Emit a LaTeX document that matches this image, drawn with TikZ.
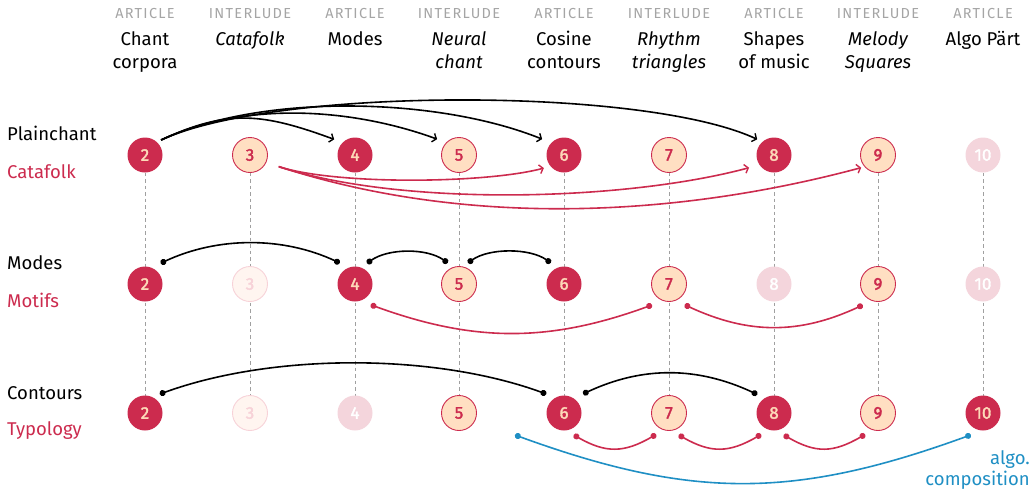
\documentclass[tikz,border=0pt]{standalone}
\usepackage{fontspec}
\setmainfont{Fira Sans}
\usetikzlibrary{arrows.meta,calc,backgrounds}
\definecolor{crim}{HTML}{CC2B4E}
\definecolor{peach}{HTML}{FFDFC2}
\definecolor{peachtxt}{HTML}{FDD9B8}
\definecolor{fade}{HTML}{F4D5DC}
\definecolor{vfadefill}{HTML}{FFF5F0}
\definecolor{vfadeline}{HTML}{F7D2D8}
\definecolor{hdrgray}{HTML}{A5A5A5}
\definecolor{dashgray}{HTML}{A0A0A0}
\definecolor{algoblue}{HTML}{1F8FC4}
\tikzset{
  num/.style={circle, minimum size=35pt, inner sep=0pt, outer sep=0pt, font=\fontsize{17}{17}\selectfont\addfontfeature{FakeBold=2}},
  dk/.style={num, fill=crim, text=peachtxt},
  lt/.style={num, fill=peach, draw=crim, line width=0.9pt, text=crim},
  fd/.style={num, fill=fade, text=white},
  vf/.style={num, fill=vfadefill, draw=vfadeline, line width=0.9pt, text=vfadeline},
  hdr/.style={anchor=base, text=hdrgray, inner sep=0pt, font=\fontsize{14.5}{14.5}\selectfont\addfontfeature{LetterSpace=9}},
  ttl/.style={anchor=base, inner sep=0pt, font=\fontsize{18.5}{23}\selectfont},
  ttli/.style={ttl, font=\fontsize{18.5}{23}\selectfont\itshape},
  lbl/.style={anchor=base west, inner sep=0pt, font=\fontsize{18.5}{23}\selectfont},
  lblr/.style={lbl, text=crim},
  algolbl/.style={anchor=base east, inner sep=0pt, text=algoblue, font=\fontsize{18.5}{23}\selectfont},
  dashline/.style={dashgray, line width=0.9pt, dash pattern=on 3.5pt off 3pt},
  blk/.style={black, line width=1.6pt},
  redc/.style={crim, line width=1.6pt},
  bluec/.style={algoblue, line width=1.6pt},
  arr/.style={-{Straight Barb[length=3.5pt,width=9pt,line width=1.4pt]}},
  dots/.style={{Circle[length=6pt]}-{Circle[length=6pt]}}
}
\begin{document}
\begin{tikzpicture}[x=1pt,y=-1pt]
\useasboundingbox (0,0) rectangle (1033,491);
% header
\node[hdr] (h2) at (145,18.5) {ARTICLE};
\node[hdr] (h3) at (250,18.5) {INTERLUDE};
\node[hdr] (h4) at (355,18.5) {ARTICLE};
\node[hdr] (h5) at (459,18.5) {INTERLUDE};
\node[hdr] (h6) at (564,18.5) {ARTICLE};
\node[hdr] (h7) at (669,18.5) {INTERLUDE};
\node[hdr] (h8) at (774,18.5) {ARTICLE};
\node[hdr] (h9) at (878,18.5) {INTERLUDE};
\node[hdr] (h10) at (983,18.5) {ARTICLE};
\node[ttl] (t2a) at (145,45) {Chant};
\node[ttl] (t2b) at (145,68) {corpora};
\node[ttli] (t3a) at (250,45) {Catafolk};
\node[ttl] (t4a) at (355,45) {Modes};
\node[ttli] (t5a) at (459,45) {Neural};
\node[ttli] (t5b) at (459,68) {chant};
\node[ttl] (t6a) at (564,45) {Cosine};
\node[ttl] (t6b) at (564,68) {contours};
\node[ttli] (t7a) at (669,45) {Rhythm};
\node[ttli] (t7b) at (669,68) {triangles};
\node[ttl] (t8a) at (774,45) {Shapes};
\node[ttl] (t8b) at (774,68) {of music};
\node[ttli] (t9a) at (878,45) {Melody};
\node[ttli] (t9b) at (878,68) {Squares};
\node[ttl] (t10a) at (983,45) {Algo Pärt};
% row labels
\node[lbl] (l1a) at (7,140) {Plainchant};
\node[lblr] (l1b) at (7,178) {Catafolk};
\node[lbl] (l2a) at (7,269) {Modes};
\node[lblr] (l2b) at (7,307) {Motifs};
\node[lbl] (l3a) at (7,399) {Contours};
\node[lblr] (l3b) at (7,435) {Typology};
\node[algolbl] (al1) at (1030,464) {algo.};
\node[algolbl] (al2) at (1030,485) {composition};
% row 1
\node[dk] (r1c2) at (145,155) {2};
\node[lt] (r1c3) at (250,155) {3};
\node[dk] (r1c4) at (355,155) {4};
\node[lt] (r1c5) at (459,155) {5};
\node[dk] (r1c6) at (564,155) {6};
\node[lt] (r1c7) at (669,155) {7};
\node[dk] (r1c8) at (774,155) {8};
\node[lt] (r1c9) at (878,155) {9};
\node[fd] (r1c10) at (983,155) {10};
% row 2
\node[dk] (r2c2) at (145,284) {2};
\node[vf] (r2c3) at (250,284) {3};
\node[dk] (r2c4) at (355,284) {4};
\node[lt] (r2c5) at (459,284) {5};
\node[dk] (r2c6) at (564,284) {6};
\node[lt] (r2c7) at (669,284) {7};
\node[fd] (r2c8) at (774,284) {8};
\node[lt] (r2c9) at (878,284) {9};
\node[fd] (r2c10) at (983,284) {10};
% row 3
\node[dk] (r3c2) at (145,413) {2};
\node[vf] (r3c3) at (250,413) {3};
\node[fd] (r3c4) at (355,413) {4};
\node[lt] (r3c5) at (459,413) {5};
\node[dk] (r3c6) at (564,413) {6};
\node[lt] (r3c7) at (669,413) {7};
\node[dk] (r3c8) at (774,413) {8};
\node[lt] (r3c9) at (878,413) {9};
\node[dk] (r3c10) at (983,413) {10};
% dashed verticals
\begin{scope}[on background layer]
\foreach \i in {2,...,10} \draw[dashline] (r1c\i) -- (r3c\i);
\end{scope}
% row 1 connectors
\draw[blk,arr] ($(r1c2)+(43:22pt)$) to[out=25,in=160,distance=75pt] ($(r1c4)+(143:26pt)$);
\draw[blk,arr] ($(r1c2)+(43:22pt)$) to[out=25,in=160,distance=92pt] ($(r1c5)+(144:27pt)$);
\draw[blk,arr] ($(r1c2)+(43:22pt)$) to[out=25,in=158,distance=112pt] ($(r1c6)+(144:27pt)$);
\draw[blk,arr] ($(r1c2)+(43:22pt)$) to[out=25,in=155,distance=125pt] ($(r1c8)+(137:23pt)$);
\draw[redc,arr] ($(r1c3)+(-22:31pt)$) to[out=-18,in=195,distance=60pt] ($(r1c6)+(213:24pt)$);
\draw[redc,arr] ($(r1c3)+(-22:31pt)$) to[out=-18,in=195,distance=130pt] ($(r1c8)+(207:28pt)$);
\draw[redc,arr] ($(r1c3)+(-22:31pt)$) to[out=-18,in=195,distance=195pt] ($(r1c9)+(217:21pt)$);
% row 2 connectors
\draw[blk,dots] ($(r2c2)+(53:26pt)$) to[out=25,in=155,distance=63pt] ($(r2c4)+(126:26pt)$);
\draw[blk,dots] ($(r2c4)+(60:24pt)$) to[out=35,in=145,distance=26pt] ($(r2c5)+(118:24pt)$);
\draw[blk,dots] ($(r2c5)+(67:23pt)$) to[out=35,in=145,distance=26pt] ($(r2c6)+(122:25pt)$);
\draw[redc,dots] ($(r2c4)+(-53:26pt)$) to[out=-20,in=200,distance=110pt] ($(r2c7)+(231:27pt)$);
\draw[redc,dots] ($(r2c7)+(-53:26pt)$) to[out=-25,in=205,distance=70pt] ($(r2c9)+(234:26pt)$);
% row 3 connectors
\draw[blk,dots] ($(r3c2)+(52:24pt)$) to[out=20,in=160,distance=120pt] ($(r3c6)+(133:26pt)$);
\draw[blk,dots] ($(r3c6)+(45:27pt)$) to[out=25,in=155,distance=66pt] ($(r3c8)+(132:25pt)$);
\draw[redc,dots] ($(r3c6)+(-66:24pt)$) to[out=-30,in=210,distance=37pt] ($(r3c7)+(239:25pt)$);
\draw[redc,dots] ($(r3c7)+(-66:24pt)$) to[out=-30,in=210,distance=37pt] ($(r3c8)+(239:25pt)$);
\draw[redc,dots] ($(r3c8)+(-66:24pt)$) to[out=-30,in=210,distance=37pt] ($(r3c9)+(239:25pt)$);
\coordinate (algostart) at (515,435);
\draw[bluec,dots] (algostart) to[out=-20,in=200,distance=188pt] ($(r3c10)+(241:25pt)$);
\end{tikzpicture}
\end{document}
